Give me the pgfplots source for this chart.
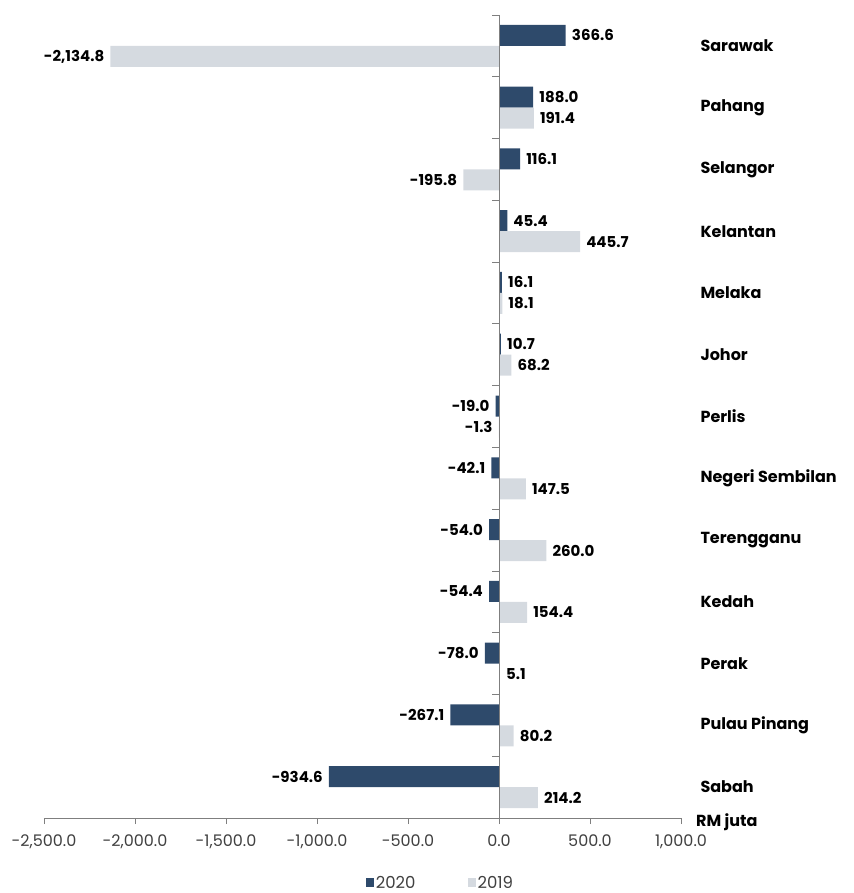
\documentclass[border=0pt]{standalone}
\usepackage{pgfplots}
\pgfplotsset{compat=1.18}
\usepackage{fontspec}
\setmainfont{Poppins}
\definecolor{c20}{HTML}{2E4A6B}
\definecolor{c19}{HTML}{D5DAE0}
\definecolor{axgray}{HTML}{7F7F7F}
\definecolor{txtgray}{HTML}{404040}

\pgfplotstableread{
idx v2020 v2019
0 366.6 -2134.8
1 188.0 191.4
2 116.1 -195.8
3 45.4 445.7
4 16.1 18.1
5 10.7 68.2
6 -19.0 -1.3
7 -42.1 147.5
8 -54.0 260.0
9 -54.4 154.4
10 -78.0 5.1
11 -267.1 80.2
12 -934.6 214.2
}\datatable

\begin{document}
\begin{tikzpicture}
\useasboundingbox (-44pt,-75pt) rectangle (809pt,818pt);
\begin{axis}[
  scale only axis, width=637pt, height=803pt,
  xmin=-2500, xmax=1000, ymin=-0.5, ymax=12.5, y dir=reverse,
  axis x line*=bottom, axis y line*=right,
  y axis line style={draw=none},
  x axis line style={axgray, line width=0.8pt},
  xtick={-2500,-2000,...,1000},
  xtick style={axgray, line width=0.8pt},
  tick align=outside, major tick length=6pt,
  ytick={0,...,12},
  yticklabels={Sarawak,Pahang,Selangor,Kelantan,Melaka,Johor,Perlis,Negeri Sembilan,Terengganu,Kedah,Perak,Pulau Pinang,Sabah},
  ytick style={draw=none},
  yticklabel style={anchor=west, font=\bfseries\fontsize{16}{18}\selectfont, text=black, xshift=10pt},
  xticklabel style={font=\fontsize{16}{18}\selectfont, text=txtgray, yshift=-7pt},
  /pgf/number format/.cd, fixed, fixed zerofill, precision=1, 1000 sep={,}, assume math mode=true,
  /pgfplots/.cd,
  xbar, bar width=0.34,
  nodes near coords, nodes near coords align={horizontal},
  every node near coord/.append style={font=\bfseries\fontsize{15}{17}\selectfont, text=black, inner xsep=6pt, inner ysep=2pt,
    /pgf/number format/.cd, fixed, fixed zerofill, precision=1, 1000 sep={,}, assume math mode=true},
  clip=false,
  legend style={draw=none, at={(rel axis cs:0.505,-0.081)}, anchor=west, legend columns=2,
    font=\fontsize{16.5}{18}\selectfont, text=txtgray, inner sep=0pt,
    /tikz/every even column/.append style={column sep=50pt}},
  legend image code/.code={\fill[#1] (0pt,-4pt) rectangle (8pt,5pt);},
]
\addplot[fill=c20, draw=none, bar shift=-0.17] table[x=v2020, y=idx] {\datatable};
\addplot[fill=c19, draw=none, bar shift=0.17] table[x=v2019, y=idx] {\datatable};
\legend{2020,2019}
\draw[axgray, line width=0.8pt] (axis cs:0,-0.5) -- (axis cs:0,12.5);
\pgfplotsinvokeforeach{-0.5,0.5,1.5,2.5,3.5,4.5,5.5,6.5,7.5,8.5,9.5,10.5,11.5}{
  \draw[axgray, line width=0.8pt] (axis cs:0,#1) -- ([xshift=-7pt]axis cs:0,#1);
}
\node[anchor=west, font=\bfseries\fontsize{16}{18}\selectfont, inner sep=0pt] at ([xshift=15pt,yshift=-4pt]rel axis cs:1,0) {RM juta};
\end{axis}
\end{tikzpicture}
\end{document}
